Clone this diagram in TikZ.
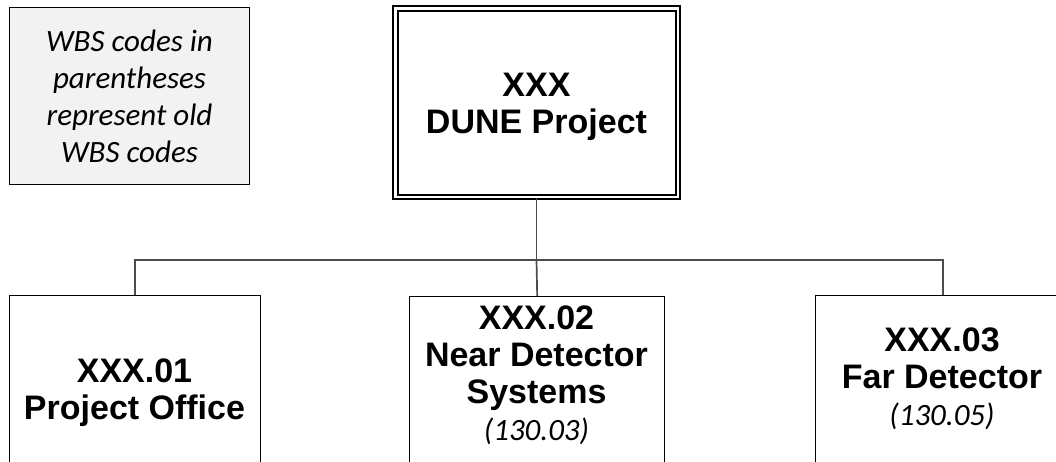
\documentclass[tikz,border=0pt]{standalone}
\usepackage{fontspec}
\setmainfont{Liberation Sans}
\newfontfamily\calib{Carlito}
\definecolor{notegray}{HTML}{F2F2F2}
\begin{document}
\begin{tikzpicture}[x=1pt,y=-1pt,
  box/.style={draw=black, line width=1.4pt, fill=white},
  conn/.style={draw=black!70, line width=1.7pt},
  btxt/.style={align=center, font=\fontsize{34}{37}\selectfont\bfseries, inner sep=0pt},
  itxt/.style={font=\calib\fontsize{31}{37}\selectfont\itshape},
  dbox/.style={draw=black, line width=2pt, double=white, double distance=2.5pt, inner sep=0pt}]
\useasboundingbox (0,0) rectangle (1056,461);

% top box
\node[dbox, minimum width=282.5pt, minimum height=188.5pt] (dune) at (536.5,102.5) {};
\node[btxt] (dunetxt) at (536.5,107) {XXX\\DUNE Project};

% note box
\node[draw=black, line width=1.4pt, fill=notegray, minimum width=240pt, minimum height=177pt,
  align=center, inner sep=0pt, itxt]
  (note) at (129.5,96) {WBS codes in\\parentheses\\represent old\\WBS codes};

% bottom boxes
\node[box, anchor=north west, minimum width=251pt, minimum height=220pt, inner sep=0pt] (po) at (9,295) {};
\node[box, anchor=north west, minimum width=255pt, minimum height=220pt, inner sep=0pt] (nd) at (409,296) {};
\node[box, anchor=north west, minimum width=254pt, minimum height=220pt, inner sep=0pt] (fd) at (815,295) {};

\node[btxt] (potxt) at (134.5,393) {XXX.01\\Project Office};
\node[btxt] (ndtxt) at (536.5,375) {XXX.02\\Near Detector\\Systems\\{\calib\mdseries\itshape\fontsize{31}{37}\selectfont (130.03)}};
\node[btxt] (fdtxt) at (942,379) {XXX.03\\Far Detector\\{\calib\mdseries\itshape\fontsize{31}{36}\selectfont (130.05)}};

% connectors
\coordinate (hub) at (536.5,260);
\draw[conn] (dune.south) -- (hub);
\draw[conn] (po.north) |- (hub) -| (fd.north);
\draw[conn] (hub) -- (nd.north);
\end{tikzpicture}
\end{document}
